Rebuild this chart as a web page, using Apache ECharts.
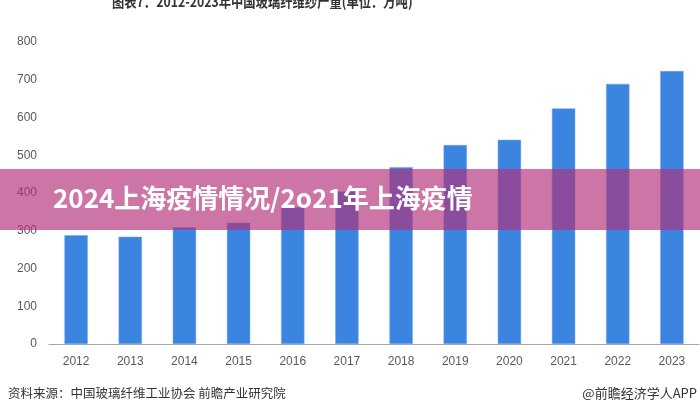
<!DOCTYPE html>
<html><head><meta charset="utf-8">
<script src="https://cdn.jsdelivr.net/npm/echarts@6/dist/echarts.min.js"></script>
<style>html,body{margin:0;padding:0;background:#fff}#c{width:700px;height:400px}</style>
</head><body><div id="c"></div>
<script>
var years = ['2012','2013','2014','2015','2016','2017','2018','2019','2020','2021','2022','2023'];
var output = [288, 284, 309, 321, 362, 404, 468, 527, 541, 624, 689, 723];
var yTicks = [0, 100, 200, 300, 400, 500, 600, 700, 800];
var titleText = '图表7：2012-2023年中国玻璃纤维纱产量(单位：万吨)';
var bannerText = '2024上海疫情情况/2o21年上海疫情';
var sourceText = '资料来源：中国玻璃纤维工业协会 前瞻产业研究院';
var brandText = '@前瞻经济学人APP';

var chart = echarts.init(document.getElementById('c'), null, {renderer:'canvas'});
chart.setOption({
  backgroundColor:'#fff',
  animation:false,
  grid:{left:49,right:1,top:42,bottom:56},
  xAxis:{type:'category',data:years,
    axisLine:{lineStyle:{color:'#a6a6a6',width:1}},
    axisTick:{show:false},
    axisLabel:{color:'#595959',fontSize:12,margin:12,fontFamily:'Liberation Sans, Arial'}},
  yAxis:{type:'value',min:yTicks[0],max:yTicks[yTicks.length-1],interval:100,
    splitLine:{show:false},axisLine:{show:false},axisTick:{show:false},
    axisLabel:{color:'#595959',fontSize:12,margin:12,fontFamily:'Liberation Sans, Arial'}},
  series:[{type:'bar',data:output,barWidth:'43%',
    itemStyle:{color:'#3b84e0',borderColor:'#6aa6ee',borderWidth:0.5}}],
  graphic:[
    {type:'text',x:112,y:-6,scaleX:0.82,style:{text:titleText,fill:'#333',font:'bold 15px "Noto Sans CJK SC"'}},
    {type:'text',left:8,top:387,style:{text:sourceText,fill:'#333',font:'12.5px "Noto Sans CJK SC"'}},
    {type:'text',right:3,top:387,style:{text:brandText,fill:'#333',font:'13px "Noto Sans CJK SC"'}},
    {type:'rect',left:0,top:169,z:100,shape:{width:700,height:61},style:{fill:'rgba(178,48,121,0.665)'}},
    {type:'text',left:53,top:185,z:101,style:{text:bannerText,fill:'#fff',font:'bold 26px "Noto Sans CJK SC"'}}
  ]
});
</script></body></html>
